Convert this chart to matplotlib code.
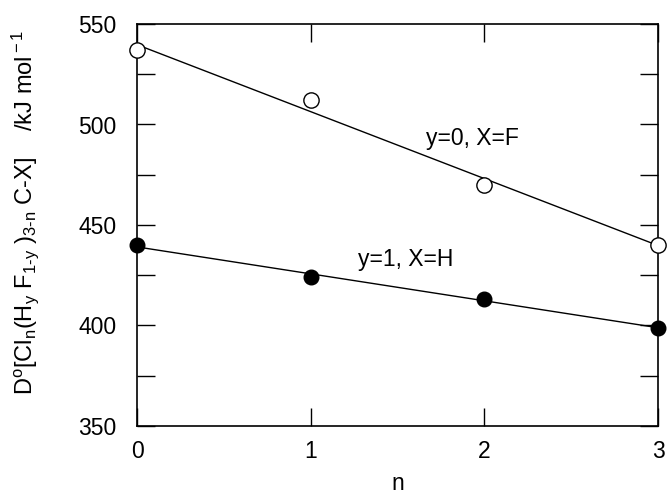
import numpy as np
import matplotlib.pyplot as plt
from matplotlib.ticker import MultipleLocator

plt.rcParams['font.family'] = ['Liberation Sans', 'DejaVu Sans']
plt.rcParams['mathtext.fontset'] = 'custom'
plt.rcParams['mathtext.rm'] = 'Liberation Sans'
plt.rcParams['mathtext.it'] = 'Liberation Sans:italic'

# データ
n = [0, 1, 2, 3]
y0_xf = [537, 512, 470, 440]   # y=0, X=F (白丸)
y1_xh = [440, 424, 413, 399]   # y=1, X=H (黒丸)

fig = plt.figure(figsize=(6.67, 4.99), dpi=100)
ax = fig.add_axes([137/667, 1 - 426/499, (658-137)/667, (426-24)/499])

# 回帰直線
xs = np.array([0, 3])
for yv in (y0_xf, y1_xh):
    k, b = np.polyfit(n, yv, 1)
    ax.plot(xs, k * xs + b, color='black', lw=1.0)

ax.plot(n, y0_xf, 'o', ms=11, mfc='white', mec='black', mew=1.0, clip_on=False, zorder=3)
ax.plot(n, y1_xh, 'o', ms=10.5, mfc='black', mec='black', clip_on=False, zorder=3)

ax.text(1.93, 493, 'y=0, X=F', fontsize=16.5, ha='center', va='center')
ax.text(1.55, 433, 'y=1, X=H', fontsize=16.5, ha='center', va='center')

ax.set_xlim(0, 3)
ax.set_ylim(350, 550)
ax.xaxis.set_major_locator(MultipleLocator(1))
ax.yaxis.set_major_locator(MultipleLocator(50))
ax.yaxis.set_minor_locator(MultipleLocator(25))
ax.tick_params(which='both', direction='in', top=True, right=True, length=13, width=1.0, labelsize=16.5)
ax.tick_params(axis='y', pad=15)
ax.tick_params(axis='x', pad=10)
for s in ax.spines.values():
    s.set_linewidth(1.2)

ax.set_xlabel('n', fontsize=16.5, va='center')
ax.xaxis.set_label_coords(0.5, (426 - 484) / 402)
ax.set_ylabel(r'D$^{\rm o}$[Cl$_{\rm n}$(H$_{\rm y}$ F$_{\rm 1\text{-}y}$ )$_{\rm 3\text{-}n}$ C-X]    /kJ mol$^{\rm -1}$',
              fontsize=17, va='center')
ax.yaxis.set_label_coords((25 - 137) / 521, (426 - 213) / 402)

plt.savefig('out.png', dpi=100)
